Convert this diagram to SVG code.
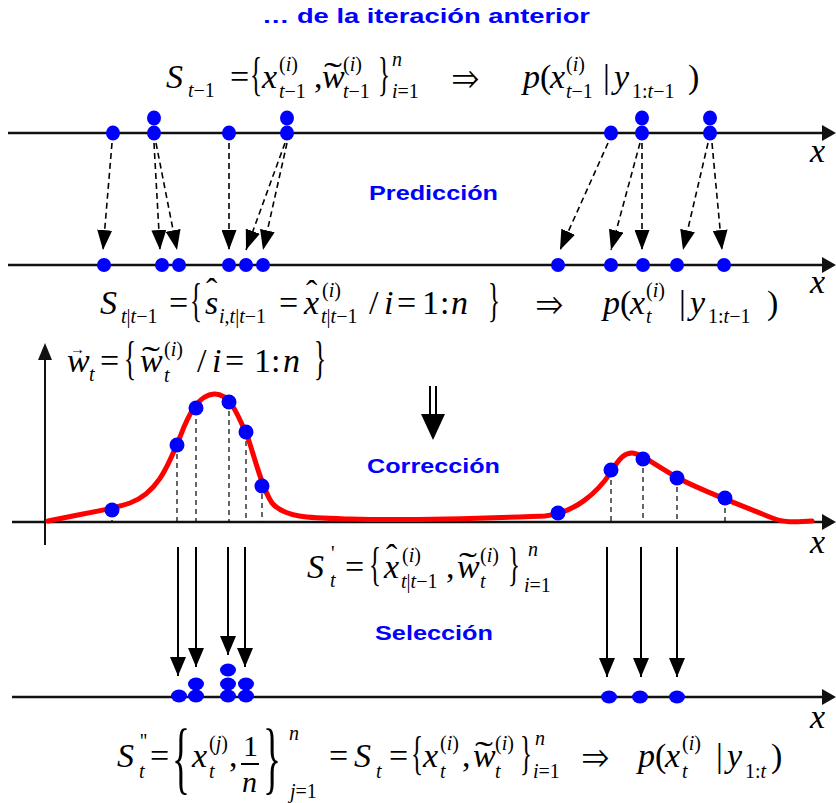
<svg xmlns="http://www.w3.org/2000/svg" width="836" height="803" viewBox="0 0 836 803">
<defs>
<style>
.m{font-family:"Liberation Serif",Tinos,"Nimbus Roman","FreeSerif","Noto Serif","DejaVu Serif",serif;font-size:34px;font-style:italic;fill:#000}
.r{font-style:normal}
.s{font-size:20px}
.br{font-family:"Liberation Serif",Tinos,"Nimbus Roman","FreeSerif","Noto Serif","DejaVu Serif",serif;font-style:normal;fill:#000}
.lbl{font-family:"Liberation Sans",Arial,sans-serif;font-weight:bold;font-size:21px;fill:#0000ff}
.ax{stroke:#111;stroke-width:2.5;fill:none}
.dot{fill:#0000ff}
.dash{stroke:#000;stroke-width:1.6;stroke-dasharray:6 4;fill:none}
.vd{stroke:#000;stroke-width:1.2;stroke-dasharray:5 4;fill:none}
.sel{stroke:#000;stroke-width:2;fill:none}
.curve{stroke:#ff0000;stroke-width:5;fill:none;stroke-linejoin:round;stroke-linecap:round}
</style>
<marker id="ah" viewBox="0 0 20 15" refX="20" refY="7.5" markerWidth="20" markerHeight="15" markerUnits="userSpaceOnUse" orient="auto">
<path d="M0,0 L20,7.5 L0,15 Z" fill="#000"/>
</marker>
<marker id="ahs" viewBox="0 0 16 19" refX="8" refY="19" markerWidth="16" markerHeight="19" markerUnits="userSpaceOnUse">
<path d="M0,0 L16,0 L8,19 Z" fill="#000"/>
</marker>
</defs>
<rect width="836" height="803" fill="#fff"/>

<!-- labels -->
<g id="labels">
<text class="lbl" x="262" y="23" textLength="328" lengthAdjust="spacingAndGlyphs">… de la iteración anterior</text>
<text class="lbl" x="369" y="200" textLength="129" lengthAdjust="spacingAndGlyphs">Predicción</text>
<text class="lbl" x="367" y="473" textLength="133" lengthAdjust="spacingAndGlyphs">Corrección</text>
<text class="lbl" x="375" y="640" textLength="118" lengthAdjust="spacingAndGlyphs">Selección</text>
</g>

<!-- axes -->
<g id="axes">
<line class="ax" x1="8" y1="133" x2="824" y2="133"/>
<path d="M822,125 L836,133 L822,141 Z" fill="#111"/>
<line class="ax" x1="8" y1="265" x2="824" y2="265"/>
<path d="M822,257 L836,265 L822,273 Z" fill="#111"/>
<line class="ax" x1="12" y1="522" x2="824" y2="522"/>
<path d="M822,514 L836,522 L822,530 Z" fill="#111"/>
<line class="ax" x1="12" y1="697" x2="824" y2="697"/>
<path d="M822,689 L836,697 L822,705 Z" fill="#111"/>
<line x1="45" y1="356" x2="45" y2="545" stroke="#111" stroke-width="2"/>
<path d="M38,360 L45,343 L52,360 Z" fill="#111"/>
<g class="m">
<text x="810" y="162">x</text>
<text x="810" y="293">x</text>
<text x="810" y="553">x</text>
<text x="810" y="728">x</text>
</g>
</g>

<!-- top particles -->
<g id="particles-prev" class="dot">
<ellipse cx="113" cy="133" rx="7" ry="7.5"/>
<ellipse cx="154" cy="133" rx="7" ry="7.5"/>
<ellipse cx="154" cy="118" rx="7" ry="7.5"/>
<ellipse cx="229" cy="133" rx="7" ry="7.5"/>
<ellipse cx="287" cy="133" rx="7" ry="7.5"/>
<ellipse cx="287" cy="118" rx="7" ry="7.5"/>
<ellipse cx="611" cy="133" rx="7" ry="7.5"/>
<ellipse cx="642" cy="133" rx="7" ry="7.5"/>
<ellipse cx="642" cy="118" rx="7" ry="7.5"/>
<ellipse cx="710" cy="133" rx="7" ry="7.5"/>
<ellipse cx="710" cy="118" rx="7" ry="7.5"/>
</g>

<!-- predicted particles -->
<g id="particles-pred" class="dot">
<ellipse cx="104" cy="265" rx="7" ry="7"/>
<ellipse cx="162" cy="265" rx="7" ry="7"/>
<ellipse cx="179" cy="265" rx="7" ry="7"/>
<ellipse cx="229" cy="265" rx="7" ry="7"/>
<ellipse cx="246" cy="265" rx="7" ry="7"/>
<ellipse cx="263" cy="265" rx="7" ry="7"/>
<ellipse cx="558" cy="265" rx="7" ry="7"/>
<ellipse cx="611" cy="265" rx="7" ry="7"/>
<ellipse cx="643" cy="265" rx="7" ry="7"/>
<ellipse cx="677" cy="265" rx="7" ry="7"/>
<ellipse cx="724" cy="265" rx="7" ry="7"/>
</g>

<!-- connectors -->
<g id="connectors">
<g class="dash" marker-end="url(#ah)">
<line x1="112" y1="143" x2="103" y2="250"/>
<line x1="154" y1="143" x2="160" y2="250"/>
<line x1="156" y1="143" x2="177" y2="250"/>
<line x1="229" y1="143" x2="229" y2="250"/>
<line x1="285" y1="143" x2="246" y2="250"/>
<line x1="287" y1="143" x2="263" y2="250"/>
<line x1="608" y1="143" x2="560" y2="250"/>
<line x1="640" y1="143" x2="611" y2="250"/>
<line x1="642" y1="143" x2="642" y2="250"/>
<line x1="708" y1="143" x2="683" y2="250"/>
<line x1="712" y1="143" x2="722" y2="250"/>
</g>
<g id="double-arrow">
<line x1="430" y1="386" x2="430" y2="418" stroke="#000" stroke-width="2"/>
<line x1="436" y1="386" x2="436" y2="418" stroke="#000" stroke-width="2"/>
<path d="M421,414 L445,414 L433,440 Z" fill="#000"/>
</g>
<g class="sel" marker-end="url(#ahs)">
<line x1="178" y1="547" x2="178" y2="676"/>
<line x1="196" y1="547" x2="196" y2="667"/>
<line x1="228" y1="547" x2="228" y2="655"/>
<line x1="245" y1="547" x2="245" y2="667"/>
<line x1="607" y1="547" x2="607" y2="677"/>
<line x1="641" y1="547" x2="641" y2="677"/>
<line x1="677" y1="547" x2="677" y2="677"/>
</g>
</g>

<!-- weights curve -->
<g id="weights">
<g class="vd">
<line x1="112" y1="511" x2="112" y2="522"/>
<line x1="177" y1="445" x2="177" y2="522"/>
<line x1="196" y1="410" x2="196" y2="522"/>
<line x1="229" y1="402" x2="229" y2="522"/>
<line x1="246" y1="432" x2="246" y2="522"/>
<line x1="262" y1="485" x2="262" y2="522"/>
<line x1="558" y1="513" x2="558" y2="522"/>
<line x1="611" y1="471" x2="611" y2="522"/>
<line x1="643" y1="459" x2="643" y2="522"/>
<line x1="677" y1="478" x2="677" y2="522"/>
<line x1="725" y1="499" x2="725" y2="522"/>
</g>
<path class="curve" d="M48,521 C80,514 110,510 130,503 C160,492 170,460 180,437 C190,410 200,395 214,394 C230,393 238,415 248,438 C256,462 262,488 272,503 C285,518 310,518 350,519 C420,521 490,518 545,516 C575,513 598,492 611,472 C620,457 625,453 632,453 C640,453 655,465 678,478 C700,490 740,505 775,519 C790,524 800,521 812,521"/>
<g class="dot">
<ellipse cx="112" cy="510" rx="7.5" ry="7.5"/>
<ellipse cx="177" cy="445" rx="7.5" ry="7.5"/>
<ellipse cx="196" cy="408" rx="7.5" ry="7.5"/>
<ellipse cx="229" cy="402" rx="7.5" ry="7.5"/>
<ellipse cx="246" cy="432" rx="7.5" ry="7.5"/>
<ellipse cx="262" cy="486" rx="7.5" ry="7.5"/>
<ellipse cx="558" cy="513" rx="7.5" ry="7.5"/>
<ellipse cx="611" cy="470" rx="7.5" ry="7.5"/>
<ellipse cx="643" cy="459" rx="7.5" ry="7.5"/>
<ellipse cx="677" cy="478" rx="7.5" ry="7.5"/>
<ellipse cx="725" cy="498" rx="7.5" ry="7.5"/>
</g>
</g>

<!-- resampled particles -->
<g id="particles-sel" class="dot">
<ellipse cx="179" cy="696" rx="8" ry="6.5"/>
<ellipse cx="196" cy="696" rx="8" ry="6.5"/>
<ellipse cx="196" cy="684" rx="8" ry="6.5"/>
<ellipse cx="228" cy="696" rx="8" ry="6.5"/>
<ellipse cx="228" cy="684" rx="8" ry="6.5"/>
<ellipse cx="228" cy="670" rx="8" ry="6.5"/>
<ellipse cx="246" cy="696" rx="8" ry="6.5"/>
<ellipse cx="246" cy="684" rx="8" ry="6.5"/>
<ellipse cx="609" cy="697" rx="8" ry="6.5"/>
<ellipse cx="640" cy="697" rx="8" ry="6.5"/>
<ellipse cx="677" cy="697" rx="8" ry="6.5"/>
</g>

<!-- formula 1 -->
<g id="formula-prev" class="m">
<text x="166" y="88">S</text>
<text class="s" x="188" y="97">t<tspan class="r">−1</tspan></text>
<text class="r" x="230" y="88">=</text>
<text class="br" x="250" y="90" font-size="46" textLength="12" lengthAdjust="spacingAndGlyphs">{</text>
<text x="262" y="88">x</text>
<text class="s" x="279" y="71"><tspan class="r">(</tspan>i<tspan class="r">)</tspan></text>
<text class="s" x="279" y="98">t<tspan class="r">−1</tspan></text>
<text class="r" x="314" y="88">,</text>
<text x="322" y="88">w</text>
<text class="r" x="324" y="86" textLength="18" lengthAdjust="spacingAndGlyphs">˜</text>
<text class="s" x="343" y="71"><tspan class="r">(</tspan>i<tspan class="r">)</tspan></text>
<text class="s" x="343" y="98">t<tspan class="r">−1</tspan></text>
<text class="br" x="378" y="90" font-size="46" textLength="12" lengthAdjust="spacingAndGlyphs">}</text>
<text class="s" x="392" y="66">n</text>
<text class="s" x="392" y="98">i<tspan class="r">=1</tspan></text>
<text class="r" x="452" y="88">⇒</text>
<text x="523" y="88">p</text>
<text class="r" x="540" y="88">(</text>
<text x="550" y="88">x</text>
<text class="s" x="566" y="71"><tspan class="r">(</tspan>i<tspan class="r">)</tspan></text>
<text class="s" x="566" y="98">t<tspan class="r">−1</tspan></text>
<text class="r" x="603" y="88">|</text>
<text x="614" y="88">y</text>
<text class="s" x="632" y="98"><tspan class="r">1:</tspan>t<tspan class="r">−1</tspan></text>
<text class="r" x="688" y="88">)</text>
</g>

<!-- formula 2 -->
<g id="formula-pred" class="m">
<text x="100" y="314">S</text>
<text class="s" x="121" y="323">t<tspan class="r">|</tspan>t<tspan class="r">−1</tspan></text>
<text class="r" x="169" y="314">=</text>
<text class="br" x="190" y="316" font-size="46" textLength="12" lengthAdjust="spacingAndGlyphs">{</text>
<text x="205" y="314">s</text>
<text class="r" x="206" y="302">ˆ</text>
<text class="s" x="219" y="323">i<tspan class="r">,</tspan>t<tspan class="r">|</tspan>t<tspan class="r">−1</tspan></text>
<text class="r" x="279" y="314">=</text>
<text x="304" y="314">x</text>
<text class="r" x="306" y="304">ˆ</text>
<text class="s" x="322" y="297"><tspan class="r">(</tspan>i<tspan class="r">)</tspan></text>
<text class="s" x="321" y="323">t<tspan class="r">|</tspan>t<tspan class="r">−1</tspan></text>
<text class="r" x="369" y="314">/</text>
<text x="384" y="314">i</text>
<text class="r" x="397" y="314">=</text>
<text class="r" x="422" y="314">1</text>
<text class="r" x="440" y="314">:</text>
<text x="451" y="314">n</text>
<text class="br" x="488" y="316" font-size="46" textLength="12" lengthAdjust="spacingAndGlyphs">}</text>
<text class="r" x="536" y="314">⇒</text>
<text x="603" y="314">p</text>
<text class="r" x="620" y="314">(</text>
<text x="630" y="314">x</text>
<text class="s" x="646" y="297"><tspan class="r">(</tspan>i<tspan class="r">)</tspan></text>
<text class="s" x="646" y="323">t</text>
<text class="r" x="679" y="314">|</text>
<text x="690" y="314">y</text>
<text class="s" x="708" y="323"><tspan class="r">1:</tspan>t<tspan class="r">−1</tspan></text>
<text class="r" x="767" y="314">)</text>
</g>

<!-- formula 3 -->
<g id="formula-weights" class="m">
<text x="67" y="372">w</text>
<text class="r" x="70" y="354" font-size="15">→</text>
<text class="s" x="89" y="381">t</text>
<text class="r" x="100" y="372">=</text>
<text class="br" x="124" y="374" font-size="46" textLength="12" lengthAdjust="spacingAndGlyphs">{</text>
<text x="140" y="372">w</text>
<text class="r" x="142" y="370" textLength="18" lengthAdjust="spacingAndGlyphs">˜</text>
<text class="s" x="164" y="356"><tspan class="r">(</tspan>i<tspan class="r">)</tspan></text>
<text class="s" x="164" y="382">t</text>
<text class="r" x="197" y="372">/</text>
<text x="212" y="372">i</text>
<text class="r" x="225" y="372">=</text>
<text class="r" x="254" y="372">1</text>
<text class="r" x="271" y="372">:</text>
<text x="283" y="372">n</text>
<text class="br" x="314" y="374" font-size="46" textLength="12" lengthAdjust="spacingAndGlyphs">}</text>
</g>

<!-- formula S' -->
<g id="formula-corr" class="m">
<text x="307" y="578">S</text>
<text class="s r" x="331" y="560">'</text>
<text class="s" x="330" y="587">t</text>
<text class="r" x="345" y="578">=</text>
<text class="br" x="369" y="580" font-size="46" textLength="12" lengthAdjust="spacingAndGlyphs">{</text>
<text x="384" y="578">x</text>
<text class="r" x="386" y="568">ˆ</text>
<text class="s" x="402" y="562"><tspan class="r">(</tspan>i<tspan class="r">)</tspan></text>
<text class="s" x="401" y="588">t<tspan class="r">|</tspan>t<tspan class="r">−1</tspan></text>
<text class="r" x="446" y="578">,</text>
<text x="457" y="578">w</text>
<text class="r" x="459" y="576" textLength="18" lengthAdjust="spacingAndGlyphs">˜</text>
<text class="s" x="480" y="562"><tspan class="r">(</tspan>i<tspan class="r">)</tspan></text>
<text class="s" x="480" y="588">t</text>
<text class="br" x="508" y="580" font-size="46" textLength="12" lengthAdjust="spacingAndGlyphs">}</text>
<text class="s" x="528" y="556">n</text>
<text class="s" x="524" y="592">i<tspan class="r">=1</tspan></text>
</g>

<!-- formula bottom -->
<g id="formula-sel" class="m">
<text x="117" y="767">S</text>
<text class="s r" x="140" y="748">''</text>
<text class="s" x="139" y="778">t</text>
<text class="r" x="150" y="767">=</text>
<text class="br" x="172" y="784" font-size="80" textLength="18" lengthAdjust="spacingAndGlyphs">{</text>
<text x="192" y="767">x</text>
<text class="s" x="209" y="750"><tspan class="r">(</tspan>j<tspan class="r">)</tspan></text>
<text class="s" x="209" y="778">t</text>
<text class="r" x="229" y="767">,</text>
<text class="r" x="243" y="756" font-size="30">1</text>
<line x1="241" y1="764" x2="259" y2="764" stroke="#000" stroke-width="2"/>
<text x="242" y="792" font-size="30">n</text>
<text class="br" x="263" y="784" font-size="80" textLength="18" lengthAdjust="spacingAndGlyphs">}</text>
<text class="s" x="289" y="740">n</text>
<text class="s" x="290" y="798">j<tspan class="r">=1</tspan></text>
<text class="r" x="329" y="767">=</text>
<text x="354" y="767">S</text>
<text class="s" x="376" y="778">t</text>
<text class="r" x="389" y="767">=</text>
<text class="br" x="411" y="769" font-size="46" textLength="12" lengthAdjust="spacingAndGlyphs">{</text>
<text x="423" y="767">x</text>
<text class="s" x="440" y="750"><tspan class="r">(</tspan>i<tspan class="r">)</tspan></text>
<text class="s" x="440" y="778">t</text>
<text class="r" x="462" y="767">,</text>
<text x="473" y="767">w</text>
<text class="r" x="475" y="765" textLength="18" lengthAdjust="spacingAndGlyphs">˜</text>
<text class="s" x="495" y="750"><tspan class="r">(</tspan>i<tspan class="r">)</tspan></text>
<text class="s" x="495" y="778">t</text>
<text class="br" x="520" y="769" font-size="46" textLength="12" lengthAdjust="spacingAndGlyphs">}</text>
<text class="s" x="535" y="745">n</text>
<text class="s" x="533" y="778">i<tspan class="r">=1</tspan></text>
<text class="r" x="582" y="767">⇒</text>
<text x="638" y="767">p</text>
<text class="r" x="655" y="767">(</text>
<text x="665" y="767">x</text>
<text class="s" x="682" y="750"><tspan class="r">(</tspan>i<tspan class="r">)</tspan></text>
<text class="s" x="682" y="778">t</text>
<text class="r" x="716" y="767">|</text>
<text x="727" y="767">y</text>
<text class="s" x="745" y="778"><tspan class="r">1:</tspan>t</text>
<text class="r" x="771" y="767">)</text>
</g>
</svg>
